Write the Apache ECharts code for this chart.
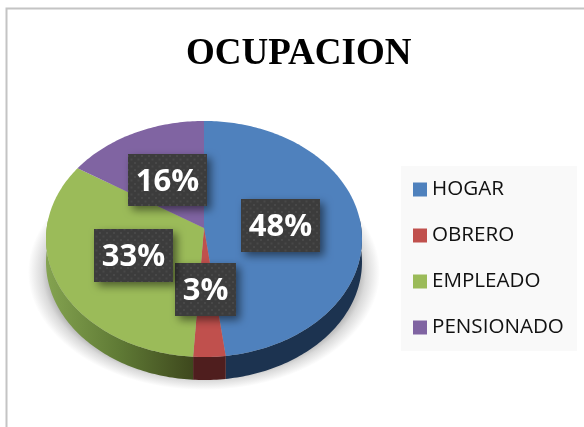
<!DOCTYPE html>
<html><head><meta charset="utf-8">
<style>html,body{margin:0;padding:0;background:#fff}#c{width:584px;height:427px}</style>
<script src="https://cdn.jsdelivr.net/npm/echarts@6/dist/echarts.min.js"></script>
</head><body><div id="c"></div>
<script>
const titleText = 'OCUPACION';
const categories = ['HOGAR', 'OBRERO', 'EMPLEADO', 'PENSIONADO'];
const values = [48, 3, 33, 16];
const colors = ['#4f81bd', '#c0504d', '#9bbb59', '#8064a2'];
const sideColors = ['#1c3350', '#4f1e1e', null, '#4d3a63'];
const labelBoxes = [[241,199,79,53],[175,263,61,53],[94,229,79,53],[128,154,79,52]];

// tilted-disc projection
const G = {cx:204, cy:228, A:157.3, B:117, k:0.0932, depth:23};
function rim(deg){
  const t = deg*Math.PI/180, u = Math.sin(t), v = Math.cos(t), w = 1+G.k*v;
  return [G.cx+G.A*u/w, G.cy-G.B*v/w];
}
const total = values.reduce((a,b)=>a+b,0);
let acc = 0;
const starts = values.map(v=>{const s=acc; acc+=v; return s;});

const pat = document.createElement('canvas');
pat.width = 7; pat.height = 7;
{const c = pat.getContext('2d');
 c.fillStyle='#3c3c3c'; c.fillRect(0,0,7,7);
 c.fillStyle='#484848'; c.fillRect(1,1,2,2); c.fillRect(4.5,4.5,2,2);}

const greenSide = {type:'linear',x:0,y:0,x2:1,y2:0,colorStops:[
  {offset:0,color:'#84a350'},{offset:0.5,color:'#5f7a35'},{offset:1,color:'#3e481d'}]};

function renderSlice(idx){
  return function(params, api){
    const start = api.value(1)/total*360, end = (api.value(1)+api.value(0))/total*360;
    const arc = [];
    for(let a=start;a<=end;a+=1) arc.push(rim(a));
    arc.push(rim(end));
    const children = [];
    const lo = Math.max(start,85), hi = Math.min(end,275);
    if(hi>lo){
      const front=[]; for(let a=lo;a<=hi;a+=1) front.push(rim(a)); front.push(rim(hi));
      const poly = front.concat(front.slice().reverse().map(p=>[p[0],p[1]+G.depth]));
      children.push({type:'polygon',z2:1,silent:true,shape:{points:poly},style:{fill:sideColors[idx]||greenSide}});
    }
    children.push({type:'polygon',z2:2,shape:{points:[[G.cx,G.cy]].concat(arc)},style:{fill:colors[idx]}});
    const b = labelBoxes[idx];
    children.push({type:'rect',z2:5,shape:{x:b[0],y:b[1],width:b[2],height:b[3]},
      style:{fill:{image:pat,repeat:'repeat'},shadowBlur:8,shadowOffsetX:4,shadowOffsetY:4,shadowColor:'rgba(0,0,0,0.5)'}});
    children.push({type:'text',z2:6,style:{text:api.value(0)+'%',x:b[0]+b[2]/2,y:b[1]+b[3]/2+2,align:'center',verticalAlign:'middle',
      fill:'#fff',font:'bold 31px "Open Sans", sans-serif'}});
    return {type:'group',children};
  };
}
function renderShadow(){
  return {type:'group',x:204,y:272,scaleY:118/176,children:[
    {type:'circle',z2:0,silent:true,shape:{cx:0,cy:0,r:176},
     style:{fill:{type:'radial',x:0.5,y:0.5,r:0.5,global:false,colorStops:[
      {offset:0,color:'rgb(175,175,175)'},{offset:0.87,color:'rgb(175,175,175)'},
      {offset:0.92,color:'rgb(218,218,218)'},{offset:1,color:'rgb(255,255,255)'}]}}}]};
}
const series = [{type:'custom',name:'sombra',coordinateSystem:'none',silent:true,data:[[0]],renderItem:renderShadow}]
 .concat(categories.map((name,i)=>({type:'custom',name,coordinateSystem:'none',color:colors[i],
   data:[[values[i],starts[i]]],renderItem:renderSlice(i),itemStyle:{color:colors[i]}})));

const chart = echarts.init(document.getElementById('c'),null,{renderer:'canvas'});
chart.setOption({
  animation:false,
  backgroundColor:'#fff',
  title:{text:titleText,left:186,top:36,padding:0,textStyle:{fontFamily:'"Liberation Serif"',fontWeight:'bold',fontSize:37,color:'#000'}},
  legend:{data:categories,orient:'vertical',left:401,top:166,backgroundColor:'#f9f9f9',padding:[13,13,13,12],
    itemWidth:14,itemHeight:14,itemGap:25,icon:'rect',selectedMode:false,
    textStyle:{fontFamily:'"Open Sans"',fontSize:20.6,color:'#111',lineHeight:20}},
  graphic:[{type:'polyline',silent:true,z:-1,shape:{points:[[6.5,427],[6.5,8.5],[584,8.5]]},style:{stroke:'#c4c4c4',lineWidth:2,fill:null}}],
  series
});
</script></body></html>
